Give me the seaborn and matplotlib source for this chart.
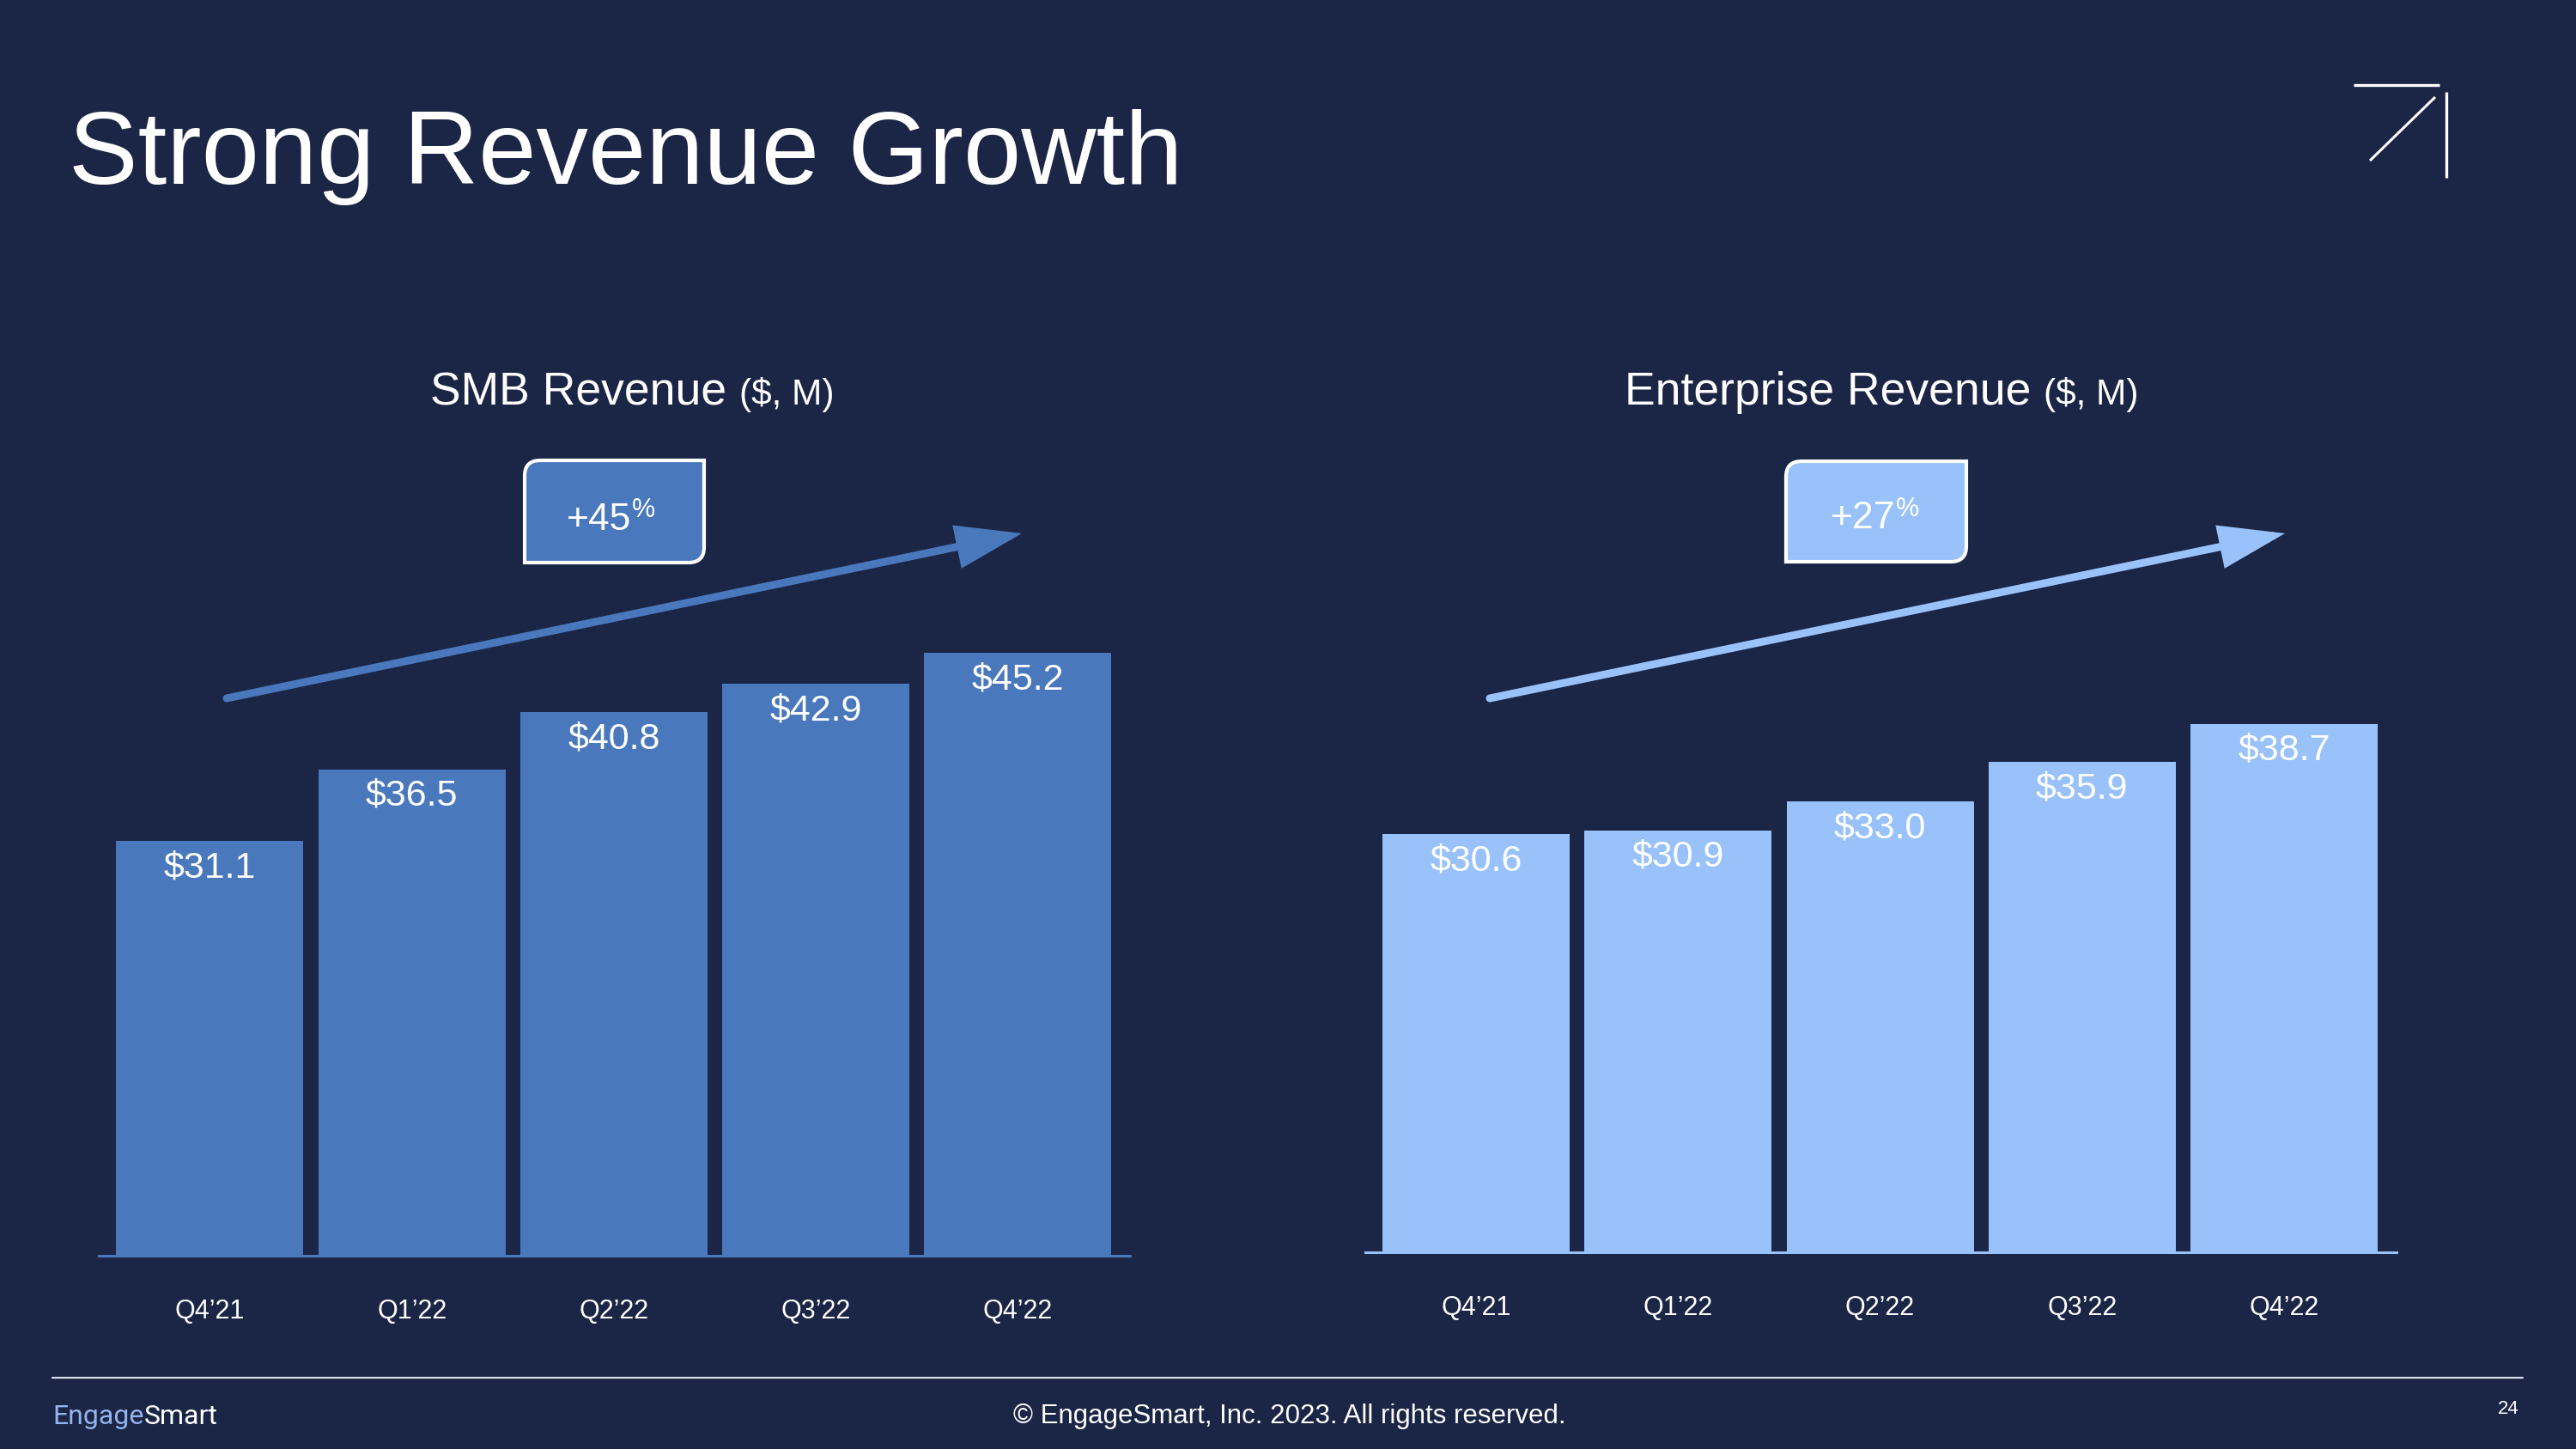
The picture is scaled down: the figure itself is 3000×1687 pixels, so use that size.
import pandas as pd
import matplotlib.pyplot as plt
import seaborn as sns
from matplotlib.path import Path
from matplotlib.patches import PathPatch, FancyArrowPatch

# --- Data ---
quarters = ["Q4’21", "Q1’22", "Q2’22", "Q3’22", "Q4’22"]
smb_revenue = [31.1, 36.5, 40.8, 42.9, 45.2]
enterprise_revenue = [30.6, 30.9, 33.0, 35.9, 38.7]
smb_growth = "+45"
enterprise_growth = "+27"

BG = "#1B2545"
SMB_BLUE = "#4A78BC"
ENT_BLUE = "#99C2FA"
ENGAGE_BLUE = "#93B4EC"

sns.set_style("white")
plt.rcParams["font.family"] = ["Liberation Sans", "DejaVu Sans"]

fig = plt.figure(figsize=(30, 16.87), dpi=100)
fig.patch.set_facecolor(BG)


def draw_panel(rect, values, color, ymax, xlim):
    ax = fig.add_axes(rect)
    df = pd.DataFrame({"quarter": quarters, "revenue": values})
    sns.barplot(data=df, x="quarter", y="revenue", color=color, saturation=1,
                width=0.927, errorbar=None, ax=ax, zorder=3, linewidth=0, edgecolor=color)
    ax.set_facecolor("none")
    ax.set_xlim(*xlim)
    ax.set_ylim(0, ymax)
    for s in ["top", "right", "left"]:
        ax.spines[s].set_visible(False)
    ax.spines["bottom"].set_color(color)
    ax.spines["bottom"].set_linewidth(2.2)
    ax.set_yticks([])
    ax.set_xlabel("")
    ax.set_ylabel("")
    ax.tick_params(axis="x", length=0, pad=36, labelsize=22, labelcolor="white")
    for i, v in enumerate(values):
        ax.annotate(f"${v:.1f}", xy=(i, v), xytext=(0, -22.5), textcoords="offset points",
                    ha="center", va="center", fontsize=31, color="white", zorder=4)
    return ax


# SMB (left) and Enterprise (right) panels
draw_panel([115 / 3000, 225 / 1687, 1201 / 3000, 762 / 1687], smb_revenue, SMB_BLUE,
           762 / 15.52, (-0.55, 4.555))
draw_panel([1590 / 3000, 229 / 1687, 1201 / 3000, 762 / 1687], enterprise_revenue, ENT_BLUE,
           762 / 15.9, (-0.549, 4.557))

# --- Overlay in pixel coordinates for slide decorations ---
ov = fig.add_axes([0, 0, 1, 1], zorder=5)
ov.set_xlim(0, 3000)
ov.set_ylim(1687, 0)
ov.axis("off")
ov.patch.set_visible(False)

# title
ov.text(80, 214, "Strong Revenue Growth", fontsize=87, color="white", ha="left", va="baseline")

# logo mark
ov.plot([2741, 2841], [99, 99], color="white", lw=2.4, solid_capstyle="butt")
ov.plot([2849, 2849], [107, 207], color="white", lw=2.4, solid_capstyle="butt")
ov.plot([2760, 2836], [187, 113], color="white", lw=2.2, solid_capstyle="butt")

# panel titles
ov.text(846, 471, "SMB Revenue", fontsize=38.5, color="white", ha="right", va="baseline")
ov.text(861, 471, "($, M)", fontsize=30.5, color="white", ha="left", va="baseline")
ov.text(2365, 471, "Enterprise Revenue", fontsize=38.5, color="white", ha="right", va="baseline")
ov.text(2380, 471, "($, M)", fontsize=30.5, color="white", ha="left", va="baseline")


def callout(x0, y0, x1, y1, r, color):
    verts = [(x0 + r, y0), (x1, y0), (x1, y1 - r), (x1, y1), (x1 - r, y1),
             (x0, y1), (x0, y0 + r), (x0, y0), (x0 + r, y0), (x0 + r, y0)]
    codes = [Path.MOVETO, Path.LINETO, Path.LINETO, Path.CURVE3, Path.CURVE3,
             Path.LINETO, Path.LINETO, Path.CURVE3, Path.CURVE3, Path.CLOSEPOLY]
    ov.add_patch(PathPatch(Path(verts, codes), facecolor=color, edgecolor="white",
                           lw=3, joinstyle="miter"))


callout(611, 536, 820, 655, 18, SMB_BLUE)
ov.text(735, 617, smb_growth, fontsize=32, color="white", ha="right", va="baseline")
ov.text(736, 602, "%", fontsize=22, color="white", ha="left", va="baseline")

callout(2080, 537, 2290, 654, 18, ENT_BLUE)
ov.text(2207, 615, enterprise_growth, fontsize=32, color="white", ha="right", va="baseline")
ov.text(2208, 601, "%", fontsize=22, color="white", ha="left", va="baseline")

# trend arrows
for start, end, color in [((264, 813), (1190, 621), SMB_BLUE), ((1735, 813), (2661, 621), ENT_BLUE)]:
    ov.add_patch(FancyArrowPatch(posA=start, posB=end,
                                 arrowstyle="-|>,head_length=42,head_width=14",
                                 mutation_scale=1, lw=6.5, color=color,
                                 shrinkA=0, shrinkB=0, joinstyle="miter"))

# footer
ov.plot([61, 2938], [1604, 1604], color="#D6DAE3", lw=1.6)
t = ov.text(61, 1658, "Engage", fontsize=23, color=ENGAGE_BLUE, ha="left", va="baseline",
            family=["Roboto", "DejaVu Sans"])
ov.annotate("Smart", xy=(1, 0), xycoords=t, ha="left", va="bottom", fontsize=23, color="white",
            family=["Roboto", "DejaVu Sans"])
ov.text(1502, 1649, "© EngageSmart, Inc. 2023. All rights reserved.", fontsize=22.5,
        color="white", ha="center", va="center")
ov.text(2921, 1641, "24", fontsize=16, color="white", ha="center", va="center")

fig.savefig("out.png", dpi=100, facecolor=BG)
